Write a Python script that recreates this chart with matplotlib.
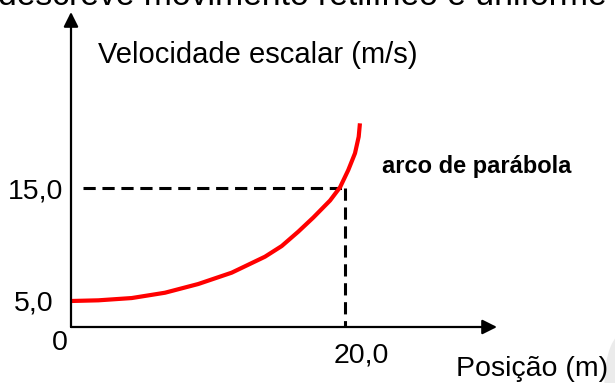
"""Schematic velocity vs position graph (arco de parábola)."""

import matplotlib

matplotlib.use("Agg")

import matplotlib.pyplot as plt
from matplotlib.patches import Ellipse

plt.rcParams["font.family"] = ["Liberation Sans", "DejaVu Sans"]

# curve: position (m) -> scalar velocity (m/s)
position = [0.0, 2.0, 4.43, 6.86, 9.29, 11.73, 14.16, 15.38, 16.59, 17.69,
            18.91, 19.64, 20.24, 20.73, 21.0, 21.09]
velocity = [5.0, 5.06, 5.26, 5.73, 6.50, 7.50, 8.91, 9.85, 11.12, 12.37,
            13.87, 15.04, 16.56, 18.04, 19.5, 20.68]

y_ticks = [5.0, 15.0]
y_tick_labels = ["5,0", "15,0"]
x_marker = 20.0
x_marker_label = "20,0"
marker_velocity = 15.0

x_label = "Posição (m)"
y_label = "Velocidade escalar (m/s)"
curve_note = "arco de parábola"
header_text = "descreve movimento retilíneo e uniforme"

# pixel mapping of the sketch: x = 0 at 71 px, 13.7 px per metre;
# v = 5 at 301 px from top, 11.33 px per m/s
W, H = 615, 383
X0, XS = 71.0, 13.7
Y5, YS = 301.0, 11.33


def px_x(p):
    return (p - X0) / XS


def px_y(p):
    return 5 + (Y5 - p) / YS


x_min, x_max = px_x(0), px_x(W)
y_min, y_max = px_y(H), px_y(0)
x_axis_y = px_y(327)

fig = plt.figure(figsize=(W / 100, H / 100), dpi=100)
ax = fig.add_axes([0, 0, 1, 1])
ax.set_xlim(x_min, x_max)
ax.set_ylim(y_min, y_max)
ax.axis("off")

# axes with arrow heads
arrow = dict(arrowstyle="-|>", color="black", lw=1.6, mutation_scale=22,
             shrinkA=0, shrinkB=0)
ax.annotate("", xy=(0, px_y(12)), xytext=(0, x_axis_y), arrowprops=arrow)
ax.annotate("", xy=(px_x(497), x_axis_y), xytext=(0, x_axis_y), arrowprops=arrow)

# dashed guides
dash = (0, (4, 2.2))
ax.plot([px_x(83), x_marker], [marker_velocity, marker_velocity], color="black",
        lw=2.2, ls=dash)
ax.plot([x_marker, x_marker], [marker_velocity, x_axis_y], color="black",
        lw=2.2, ls=dash)

ax.plot(position, velocity, color="#ff0000", lw=3.0, solid_capstyle="butt",
        solid_joinstyle="round")

# labels
fs = 20.5
ax.text(px_x(63), px_y(192), y_tick_labels[1], ha="right", va="center", fontsize=fs)
ax.text(px_x(54), px_y(303), y_tick_labels[0], ha="right", va="center", fontsize=fs)
ax.text(px_x(60), px_y(343), "0", ha="center", va="center", fontsize=fs)
ax.text(px_x(361), px_y(355), x_marker_label, ha="center", va="center", fontsize=fs)
ax.text(px_x(532), px_y(376), x_label, ha="center", va="baseline", fontsize=20.5)
ax.text(px_x(258), px_y(55), y_label, ha="center", va="center", fontsize=21)
ax.text(px_x(477), px_y(167), curve_note, ha="center", va="center", fontsize=17,
        fontweight="bold")
ax.text(px_x(-2), px_y(5), header_text, ha="left", va="baseline", fontsize=24.3)

# page shadow in the lower right corner
ax.add_patch(Ellipse((px_x(625), px_y(383)), 3.0, 9.0, color="#ebebeb",
                     lw=0, zorder=0))

fig.savefig("out.png", dpi=100)
